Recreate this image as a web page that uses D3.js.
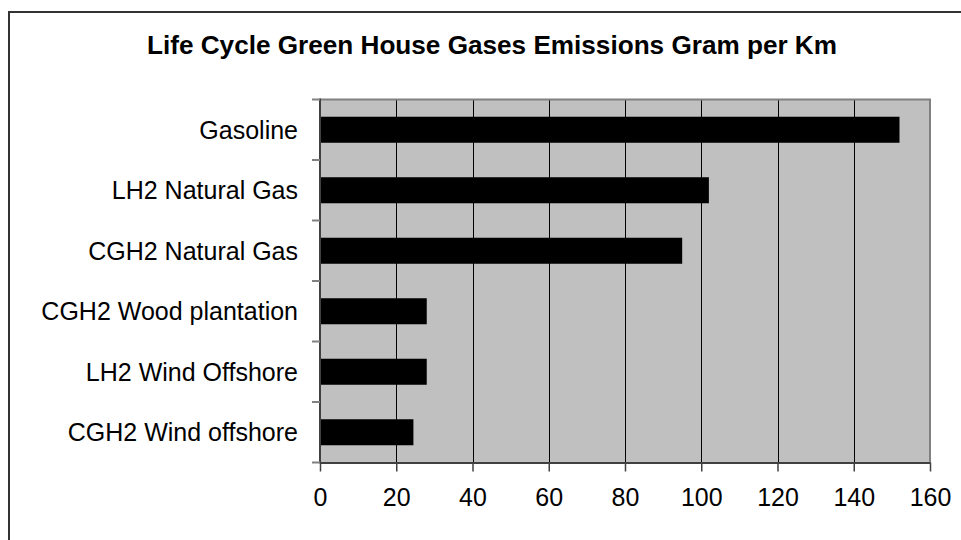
<!DOCTYPE html>
<html><head><meta charset="utf-8">
<script src="https://cdn.jsdelivr.net/npm/d3@7"></script>
<style>body{margin:0;background:#fff;}svg{display:block;font-family:"Liberation Sans",Arial,sans-serif;}</style>
</head><body>
<svg id="c" width="961" height="540"></svg>
<script>
const title = "Life Cycle Green House Gases Emissions Gram per Km";
const categories = ["Gasoline","LH2 Natural Gas","CGH2 Natural Gas","CGH2 Wood plantation","LH2 Wind Offshore","CGH2 Wind offshore"];
const values = [152, 102, 95, 28, 28, 24.5];
const xTicks = [0,20,40,60,80,100,120,140,160];

const svg = d3.select("#c");
const L = 320, R = 930, T = 99.5, B = 462.5;

// outer frame
svg.append("rect").attr("x",9).attr("y",12).attr("width",980).attr("height",560)
  .attr("fill","#fff").attr("stroke","#333").attr("stroke-width",2);

svg.append("text").attr("x",492).attr("y",54).attr("text-anchor","middle")
  .attr("font-weight","bold").attr("font-size",25).attr("fill","#000")
  .attr("textLength",690).attr("lengthAdjust","spacingAndGlyphs").text(title);

const x = d3.scaleLinear().domain([0,160]).range([L,R]);
const y = d3.scaleBand().domain(categories).range([T,B]).paddingInner(0.57).paddingOuter(0.285);

// plot background
svg.append("rect").attr("x",L).attr("y",T).attr("width",R-L).attr("height",B-T).attr("fill","#c0c0c0");

// gridlines
svg.append("g").selectAll("line").data(xTicks.filter(d=>d>0&&d<160)).join("line")
  .attr("x1",d=>Math.round(x(d))+0.5).attr("x2",d=>Math.round(x(d))+0.5)
  .attr("y1",T).attr("y2",B).attr("stroke","#000").attr("stroke-width",1);

// bars
svg.append("g").selectAll("rect").data(categories).join("rect")
  .attr("x",x(0)).attr("y",d=>y(d)).attr("width",(d,i)=>x(values[i])-x(0)).attr("height",y.bandwidth())
  .attr("fill","#000");

// plot border top/right
svg.append("line").attr("x1",L).attr("x2",R+1).attr("y1",T).attr("y2",T).attr("stroke","#808080").attr("stroke-width",2);
svg.append("line").attr("x1",R).attr("x2",R).attr("y1",T).attr("y2",B).attr("stroke","#808080").attr("stroke-width",2);

// x axis
const xa = svg.append("g").attr("transform",`translate(0,${B})`)
  .call(d3.axisBottom(x).tickValues(xTicks).tickSize(9).tickPadding(17).tickSizeOuter(0));
xa.select(".domain").attr("stroke","#404040").attr("stroke-width",2);
xa.selectAll(".tick line").attr("stroke","#404040").attr("stroke-width",1.5);
xa.selectAll(".tick text").attr("font-size",25).attr("fill","#000").attr("font-family","Liberation Sans, Arial, sans-serif");

// y axis with boundary ticks
const bounds = d3.range(categories.length+1).map(i=>T + i*(B-T)/categories.length);
svg.append("line").attr("x1",L).attr("x2",L).attr("y1",T-1).attr("y2",B+1).attr("stroke","#404040").attr("stroke-width",2);
svg.append("g").selectAll("line").data(bounds).join("line")
  .attr("x1",L-8).attr("x2",L).attr("y1",d=>d).attr("y2",d=>d).attr("stroke","#808080").attr("stroke-width",2);
svg.append("g").selectAll("text").data(categories).join("text")
  .attr("x",298).attr("y",d=>y(d)+y.bandwidth()/2).attr("dy","0.35em")
  .attr("text-anchor","end").attr("font-size",25).attr("fill","#000").text(d=>d);
</script>
</body></html>
